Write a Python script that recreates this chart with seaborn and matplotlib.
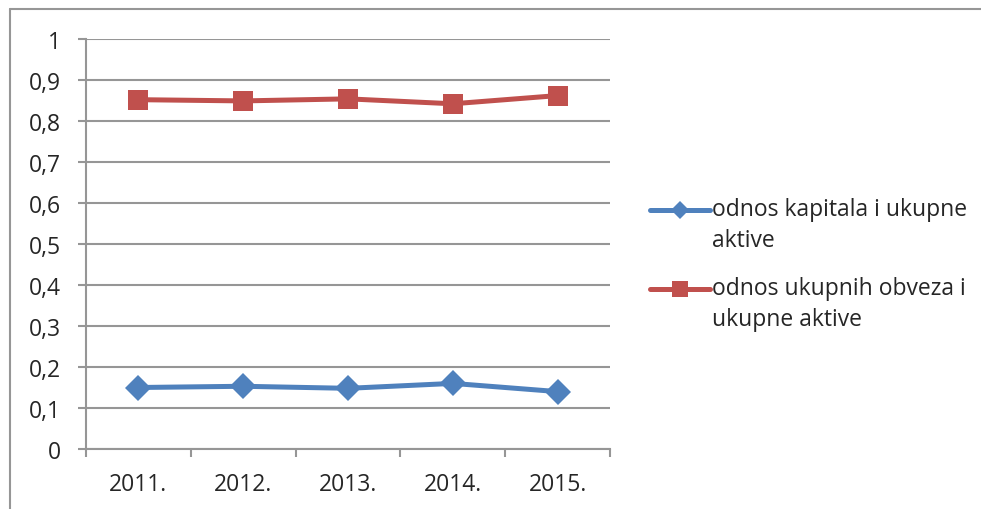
import pandas as pd
import seaborn as sns
import matplotlib.pyplot as plt
from matplotlib.lines import Line2D
from matplotlib.legend_handler import HandlerLine2D

years = ["2011.", "2012.", "2013.", "2014.", "2015."]
kapital = [0.150, 0.153, 0.148, 0.160, 0.140]
obveze = [0.852, 0.849, 0.854, 0.842, 0.862]
names = ["odnos kapitala i ukupne\naktive", "odnos ukupnih obveza i\nukupne aktive"]
yticks = [0, 0.1, 0.2, 0.3, 0.4, 0.5, 0.6, 0.7, 0.8, 0.9, 1]
ylabels = ["0", "0,1", "0,2", "0,3", "0,4", "0,5", "0,6", "0,7", "0,8", "0,9", "1"]

blue = "#4F81BD"
red = "#C0504D"
grid = "#969696"
fs = 16.5


class TopLineHandler(HandlerLine2D):
    # put the legend handle next to the first text line, like Excel does
    def create_artists(self, legend, orig_handle, xdescent, ydescent,
                       width, height, fontsize, trans):
        artists = super().create_artists(legend, orig_handle, xdescent, ydescent,
                                         width, height, fontsize, trans)
        for a in artists:
            a.set_ydata([y + 11.5 for y in a.get_ydata()])
        return artists


sns.set_style("white")
plt.rcParams["font.family"] = ["Open Sans", "DejaVu Sans"]

fig = plt.figure(figsize=(9.81, 5.1), dpi=100)
ax = fig.add_axes([86 / 981, 1 - 450 / 510, (610 - 86) / 981, 410 / 510])

x = list(range(len(years)))
sns.lineplot(x=x, y=kapital, color=blue, marker="D", markersize=13,
             markeredgewidth=0, linewidth=3.6, ax=ax)
sns.lineplot(x=x, y=obveze, color=red, marker="s", markersize=14,
             markeredgewidth=0, linewidth=3.6, ax=ax)

ax.set_xlim(-0.5, len(years) - 0.5)
ax.set_ylim(0, 1)
ax.set_yticks(yticks)
ax.set_yticklabels(ylabels)
ax.set_xticks(x)
ax.set_xticklabels(years)
ax.set_xticks([i - 0.5 for i in range(len(years) + 1)], minor=True)
ax.set_xlabel("")
ax.set_ylabel("")
ax.yaxis.grid(True, color=grid, linewidth=1.5)
ax.set_axisbelow(True)
for s in ["top", "right"]:
    ax.spines[s].set_visible(False)
for s in ["left", "bottom"]:
    ax.spines[s].set_color(grid)
    ax.spines[s].set_linewidth(1.5)
ax.tick_params(axis="y", which="major", left=True, length=6, width=1.5,
               color=grid, labelsize=fs, pad=12)
ax.tick_params(axis="x", which="major", bottom=False, labelsize=fs, pad=13)
ax.tick_params(axis="x", which="minor", bottom=True, length=6, width=1.5,
               color=grid, direction="out")

handles = [
    Line2D([], [], color=blue, lw=3.6, marker="D", markersize=9, markeredgewidth=0),
    Line2D([], [], color=red, lw=3.6, marker="s", markersize=12, markeredgewidth=0),
]
leg = fig.legend(handles, names, loc="upper left", bbox_to_anchor=(650 / 981, 1 - 198 / 510),
                 frameon=False, fontsize=fs, handlelength=2.6, handletextpad=0.1,
                 borderpad=0, borderaxespad=0, labelspacing=1.05,
                 handler_map={Line2D: TopLineHandler()})
for t in leg.get_texts():
    t.set_linespacing(1.4)

# outer chart border
fig.add_artist(Line2D([10 / 981, 10 / 981], [0, 1 - 10 / 510], color=grid, lw=1.5))
fig.add_artist(Line2D([10 / 981, 1], [1 - 10 / 510, 1 - 10 / 510], color=grid, lw=1.5))

fig.savefig("out.png", dpi=100)
